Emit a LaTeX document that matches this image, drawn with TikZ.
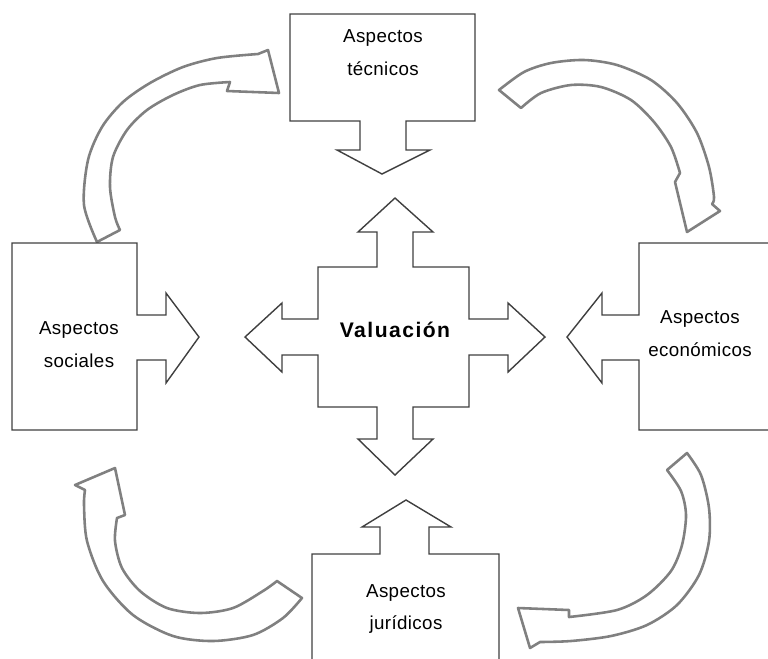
\documentclass[tikz,border=0pt]{standalone}
\usepackage{fontspec}
\setmainfont{Liberation Sans}
\usepackage{tikz}

\begin{document}
\begin{tikzpicture}[x=0.03cm, y=-0.03cm]
        \tikzstyle{caja} = [draw=black!75, line width=1.2pt, fill=white, line join=miter]
        \tikzstyle{giro} = [draw=black!50, line width=2.2pt, fill=white, line join=round]
        \tikzstyle{texto} = [align=center, font=\fontsize{16}{28}\selectfont\addfontfeatures{LetterSpace=2}]
        \useasboundingbox (0,0) rectangle (768,658);

        % curved arrows
        \draw[giro] plot[smooth] coordinates {(97,242) (84,205) (88,160) (102,127) (123,102) (150,83) (183,67) (217,58) (258,54)}
            -- (268,50) -- (279,93) -- (227,91) -- (230,82)
            -- plot[smooth] coordinates {(230,82) (200,85) (173,95) (147,110) (127,130) (113,157) (110,187) (115,217) (120,230)} -- cycle;
        \draw[giro] plot[smooth] coordinates {(499,90) (524,72) (551,63) (584,60) (617,65) (651,80) (677,103) (697,133) (709,167) (714,197) (712,204)}
            -- (720,211) -- (687,232) -- (675,182) -- (680,173)
            -- plot[smooth] coordinates {(680,173) (671,147) (654,122) (631,100) (601,87) (571,85) (541,93) (521,108)} -- cycle;
        \draw[giro] plot[smooth] coordinates {(687,453) (701,475) (709,508) (709,541) (699,575) (677,605) (647,625) (611,636) (571,641) (540,642)}
            -- (530,648) -- (518,608) -- (569,610) -- (569,617)
            -- plot[smooth] coordinates {(569,617) (617,610) (647,595) (671,571) (682,545) (686,515) (681,491) (667,470)} -- cycle;
        \draw[giro] plot[smooth] coordinates {(302,598) (283,618) (253,635) (213,641) (173,636) (133,615) (103,581) (87,541) (84,505) (85,490)}
            -- (75,485) -- (115,468) -- (125,515) -- (117,518)
            -- plot[smooth] coordinates {(117,518) (115,541) (122,568) (140,591) (167,608) (200,613) (233,608) (263,591) (277,581)} -- cycle;

        % boxes with their arrows
        \draw[caja] (290,14) -- (475,14) -- (475,121) -- (406,121) -- (406,150) -- (430,150) -- (382,174)
            -- (337,150) -- (360,150) -- (360,121) -- (290,121) -- cycle;
        \draw[caja] (12,243) -- (137,243) -- (137,315) -- (166,315) -- (166,293) -- (199,337) -- (166,383)
            -- (166,360) -- (137,360) -- (137,430) -- (12,430) -- cycle;
        \draw[caja] (772,243) -- (639,243) -- (639,315) -- (602,315) -- (602,293) -- (567,337) -- (602,383)
            -- (602,360) -- (639,360) -- (639,430) -- (772,430);
        \draw[caja] (312,662) -- (312,554) -- (380,554) -- (380,527) -- (362,527) -- (406,500) -- (451,527)
            -- (429,527) -- (429,554) -- (499,554) -- (499,662);

        % centre
        \draw[caja] (395,198) -- (433,232) -- (413,232) -- (413,267) -- (469,267) -- (469,319) -- (508,319)
            -- (508,303) -- (545,337) -- (508,372) -- (508,355) -- (469,355) -- (469,407) -- (413,407)
            -- (413,439) -- (433,439) -- (395,475) -- (358,439) -- (377,439) -- (377,407) -- (318,407)
            -- (318,355) -- (282,355) -- (282,372) -- (245,337) -- (282,303) -- (282,319) -- (318,319)
            -- (318,267) -- (377,267) -- (377,232) -- (358,232) -- cycle;

        \node[texto] (tecnicos) at (383,53) {Aspectos\\técnicos};
        \node[texto] (sociales) at (79,345) {Aspectos\\sociales};
        \node[texto] (economicos) at (700,334) {Aspectos\\económicos};
        \node[texto] (juridicos) at (406,609) {Aspectos\\jurídicos};
        \node[font=\fontsize{18}{20}\selectfont\bfseries\addfontfeatures{LetterSpace=7}] (valuacion) at (395,330) {Valuación};
\end{tikzpicture}
\end{document}
